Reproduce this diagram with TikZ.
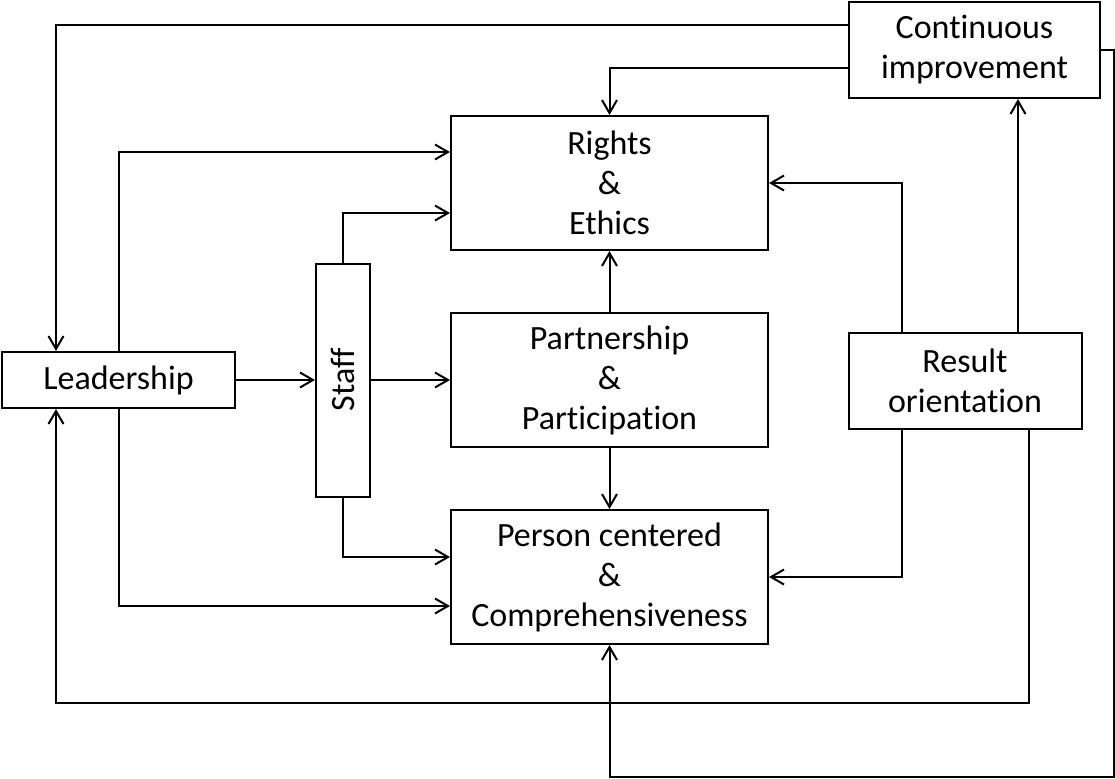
\documentclass[tikz,border=0pt]{standalone}
\usepackage{fontspec}
\setmainfont{Carlito}[Ligatures=NoCommon]
\usepackage{graphicx}
\usetikzlibrary{arrows.meta}
\begin{document}
\begin{tikzpicture}[x=.5pt,y=-.5pt,line width=1pt,
    font=\fontsize{17pt}{20pt}\selectfont,
    box/.style={draw,align=center,inner sep=2pt},
    arr/.style={-{Straight Barb[length=6.5pt,width=7.5pt]}}]
  \useasboundingbox (0,0) rectangle (1115,778);
  % boxes
  \node[box,minimum width=125.5pt,minimum height=48pt] (cont) at (974.5,50)
    {Continuous\\improvement};
  \node[box,minimum width=158.5pt,minimum height=67pt] (rights) at (609.5,183)
    {Rights\\\&\\Ethics};
  \node[box,minimum width=158.5pt,minimum height=67pt] (part) at (609.5,380)
    {Partnership\\\&\\Participation};
  \node[box,minimum width=158.5pt,minimum height=67pt] (person) at (609.5,577)
    {Person centered\\\&\\Comprehensiveness};
  \node[box,minimum width=116.5pt,minimum height=28pt] (lead) at (118.5,380)
    {Leadership};
  \node[box,minimum width=27pt,minimum height=116.5pt] (staff) at (343,380)
    {\rotatebox{90}{Staff}};
  \node[box,minimum width=116.5pt,minimum height=48pt] (result) at (965,380.5)
    {Result\\orientation};
  % feedback from continuous improvement
  \draw[arr] ([yshift=12.5pt]cont.west) -| ([xshift=27.5pt]lead.north west);
  \draw[arr] ([yshift=-9pt]cont.west) -| (rights.north);
  \draw[arr] (cont.east) -- ++(13,0) |- ([yshift=-66pt]person.south)
    -- (person.south);
  % leadership and staff
  \draw[arr] (lead.north) |- ([yshift=15.5pt]rights.west);
  \draw[arr] (lead.south) |- ([yshift=-14.5pt]person.west);
  \draw[arr] (lead.east) -- (staff.west);
  \draw[arr] (staff.north) |- ([yshift=-15pt]rights.west);
  \draw[arr] (staff.east) -- (part.west);
  \draw[arr] (staff.south) |- ([yshift=10pt]person.west);
  \draw[arr] (part.north) -- (rights.south);
  \draw[arr] (part.south) -- (person.north);
  % result orientation
  \draw[arr] ([xshift=-31.5pt]result.north) |- (rights.east);
  \draw[arr] ([xshift=26.5pt]result.north) -- ([xshift=26.5pt]result.north |- cont.south);
  \draw[arr] ([xshift=-31.5pt]result.south) |- (person.east);
  \draw[arr] ([xshift=32pt]result.south) -- ++(0,273)
    -| ([xshift=27.5pt]lead.south west);
\end{tikzpicture}
\end{document}
